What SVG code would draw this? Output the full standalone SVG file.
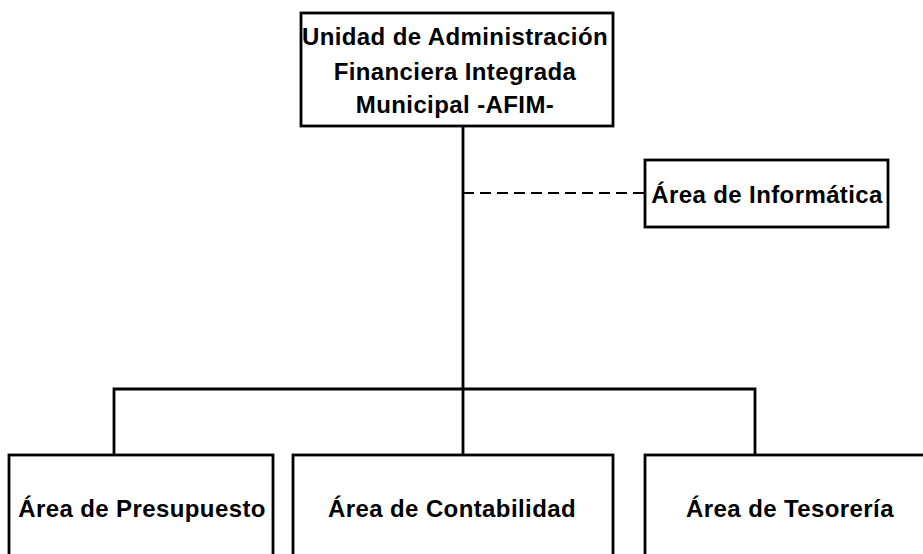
<svg xmlns="http://www.w3.org/2000/svg" width="923" height="554" viewBox="0 0 923 554">
<style>
.box{fill:#fff;stroke:#000;stroke-width:2.8}
.t{font-family:"Liberation Sans",Arial,sans-serif;font-weight:bold;font-size:24px;letter-spacing:0.4px;fill:#000;text-anchor:middle}
.ln{fill:none;stroke:#000;stroke-width:2.8}
.dash{fill:none;stroke:#000;stroke-width:2.2;stroke-dasharray:11 6}
</style>
<rect width="923" height="554" fill="#fff"/>
<g id="connectors">
<line class="ln" x1="463" y1="126" x2="463" y2="455"/>
<line class="dash" x1="463" y1="193" x2="645" y2="193"/>
<polyline class="ln" points="114,455 114,389 755,389 755,455"/>
</g>
<g id="afim">
<rect class="box" x="301" y="13" width="312" height="113"/>
<text class="t" x="455" y="45">Unidad de Administración</text>
<text class="t" x="455" y="80">Financiera Integrada</text>
<text class="t" x="455" y="113">Municipal -AFIM-</text>
</g>
<g id="informatica">
<rect class="box" x="645" y="160" width="243" height="67"/>
<text class="t" x="767" y="203">Área de Informática</text>
</g>
<g id="presupuesto">
<rect class="box" x="9" y="455" width="264" height="110"/>
<text class="t" x="142" y="517">Área de Presupuesto</text>
</g>
<g id="contabilidad">
<rect class="box" x="293" y="455" width="320" height="110"/>
<text class="t" x="452" y="517">Área de Contabilidad</text>
</g>
<g id="tesoreria">
<rect class="box" x="645" y="455" width="290" height="110"/>
<text class="t" x="790" y="517">Área de Tesorería</text>
</g>
</svg>
